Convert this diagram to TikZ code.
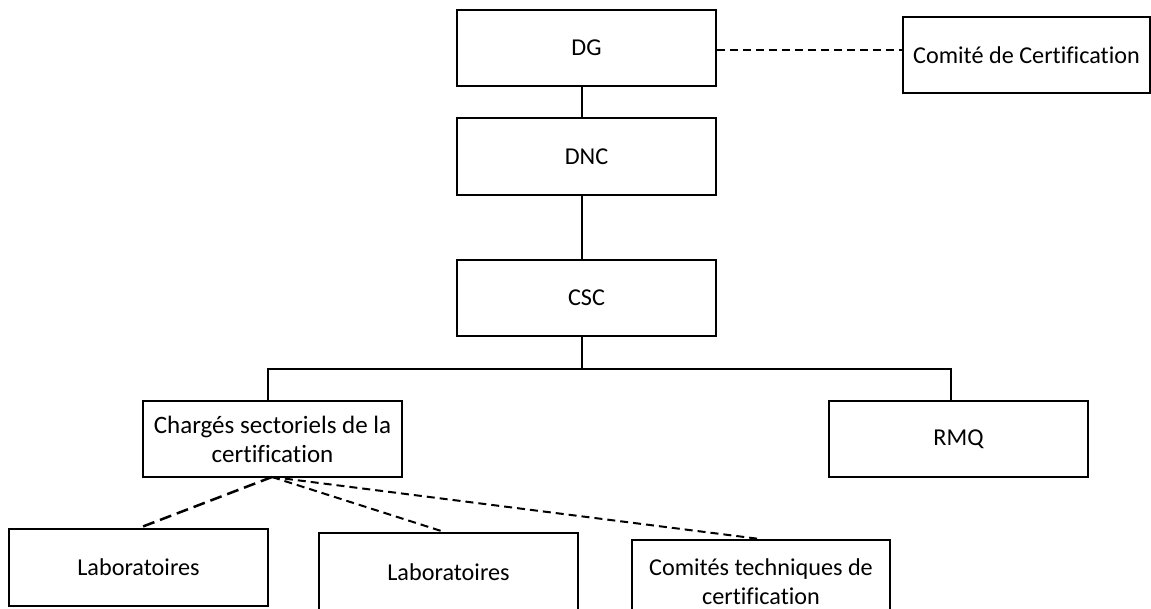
\documentclass[tikz,border=0pt]{standalone}
\usepackage{fontspec}
\setmainfont{Carlito}[Ligatures={NoCommon}]
\begin{document}
\begin{tikzpicture}[x=1pt,y=-1pt,
  box/.style={draw, line width=1.6pt, inner sep=0pt, align=center, font=\fontsize{24.2}{28.5}\selectfont},
  bigtext/.style={font=\fontsize{25}{29}\selectfont},
  solidlink/.style={line width=2.5pt},
  dashlink/.style={line width=2.5pt, dash pattern=on 8pt off 5pt},
  longdash/.style={line width=2.5pt, dash pattern=on 12pt off 6pt},
  thindash/.style={line width=2pt, dash pattern=on 8pt off 5pt}]
\path[use as bounding box] (0,0) rectangle (1151,609);
\node[box, minimum width=259pt, minimum height=76pt] (dg) at (586.5,48) {DG};
\node[box, minimum width=259pt, minimum height=77pt] (dnc) at (586.5,156.5) {DNC};
\node[box, minimum width=259pt, minimum height=76pt] (csc) at (586.5,298) {CSC};
\node[box, minimum width=247pt, minimum height=76pt] (cc) at (1026.5,55) {Comité de Certification};
\node[box, bigtext, minimum width=259pt, minimum height=76pt] (cs) at (272.5,439) {Chargés sectoriels de la\\certification};
\node[box, minimum width=259pt, minimum height=76pt] (rmq) at (958.5,439) {RMQ};
\node[box, minimum width=259pt, minimum height=77pt] (lab1) at (138.5,567.5) {Laboratoires};
\node[box, minimum width=259pt, minimum height=78pt] (lab2) at (448.5,572) {Laboratoires};
\node[box, minimum width=258pt, minimum height=84pt, anchor=north] (ct) at (761,539) {Comités techniques de\\certification};
\coordinate (bar) at (582,369);
\coordinate (src) at (272,477);
\draw[solidlink] (dg.south -| bar) -- (dnc.north -| bar);
\draw[solidlink] (dnc.south -| bar) -- (csc.north -| bar);
\draw[solidlink] (csc.south -| bar) -- (bar);
\draw[solidlink] (cs.north -| 268,0) |- (bar) -| (rmq.north -| 951,0);
\draw[dashlink] (dg.east |- 0,50) -- (cc.west |- 0,50);
\draw[longdash] (src) -- (lab1.north);
\draw[thindash] (src) -- (lab2.north -| 445,0);
\draw[thindash] (src) -- (ct.north -| 760,0);
\end{tikzpicture}
\end{document}
